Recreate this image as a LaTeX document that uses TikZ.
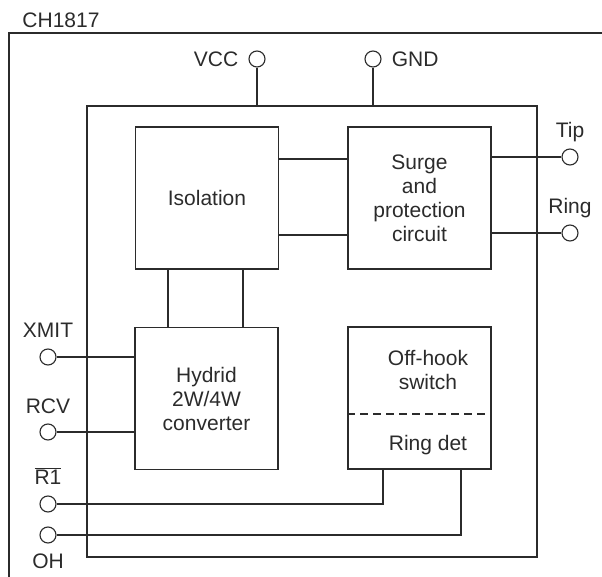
\documentclass[tikz,border=0pt]{standalone}
\usepackage{fontspec}
\setmainfont{Liberation Sans}
\usetikzlibrary{positioning}
\definecolor{cink}{HTML}{2B2B2B}

\begin{document}
\begin{tikzpicture}[x=1pt,y=-1pt,
  font=\fontsize{21}{24}\selectfont,text=cink,
  blk/.style={draw=cink,line width=1.2pt,minimum width=143pt,minimum height=142pt,
              align=center,inner sep=0pt},
  port/.style={circle,draw=cink,line width=1.1pt,fill=white,minimum size=16pt,inner sep=0pt},
  lbl/.style={inner sep=0pt,text depth=0pt},
  txt/.style={align=center,inner sep=0pt},
  wire/.style={draw=cink,line width=1.2pt}]
  \useasboundingbox (0,0) rectangle (602,577);

  \node[lbl] (title) at (61,20) {CH1817};
  \draw[wire] (9,577) -- (9,33) -- (602,33);

  \node[blk,minimum width=450pt,minimum height=451pt] (chip) at (312,331.5) {};

  \node[blk] (isol) at (207,198) {Isolation};
  \node[blk] (surge) at (419.5,198) {Surge\\and\\protection\\circuit};
  \node[blk] (hyb) at (206.5,398.5) {Hydrid\\2W/4W\\converter};
  \node[blk] (hook) at (419.5,398) {};
  \node[txt] (hooksw) at (428,370) {Off-hook\\switch};
  \node[txt] (ringdet) at (428,445) {Ring det};
  \draw[wire,dash pattern=on 8pt off 5pt] (hook.west |- 0,414) -- (hook.east |- 0,414);

  \node[port] (vcc) at (257,59) {};
  \node[lbl,left=10pt of vcc] (vcclbl) {VCC};
  \node[port] (gnd) at (373,59) {};
  \node[lbl,right=10pt of gnd] (gndlbl) {GND};
  \node[port] (tip) at (570,157) {};
  \node[lbl,above=11pt of tip] (tiplbl) {Tip};
  \node[port] (ring) at (570,233) {};
  \node[lbl,above=11pt of ring] (ringlbl) {Ring};
  \node[port] (xmit) at (48,357) {};
  \node[lbl,above=11pt of xmit] (xmitlbl) {XMIT};
  \node[port] (rcv) at (48,432) {};
  \node[lbl,above=10pt of rcv] (rcvlbl) {RCV};
  \node[port] (r1) at (48,504) {};
  \node[lbl,above=11pt of r1] (r1lbl) {$\overline{\mbox{R1}}$};
  \node[port] (oh) at (48,535) {};
  \node[lbl,below=10pt of oh] (ohlbl) {OH};

  \draw[wire] (vcc) -- (vcc |- chip.north);
  \draw[wire] (gnd) -- (gnd |- chip.north);
  \draw[wire] (isol.east |- 0,159) -- (surge.west |- 0,159);
  \draw[wire] (isol.east |- 0,235) -- (surge.west |- 0,235);
  \draw[wire] (tip) -- (tip -| surge.east);
  \draw[wire] (ring) -- (ring -| surge.east);
  \draw[wire] (isol.south -| 168,0) -- (hyb.north -| 168,0);
  \draw[wire] (isol.south -| 243,0) -- (hyb.north -| 243,0);
  \draw[wire] (xmit) -- (xmit -| hyb.west);
  \draw[wire] (rcv) -- (rcv -| hyb.west);
  \draw[wire] (r1) -| (hook.south -| 383,0);
  \draw[wire] (oh) -| (hook.south -| 461,0);
\end{tikzpicture}
\end{document}
